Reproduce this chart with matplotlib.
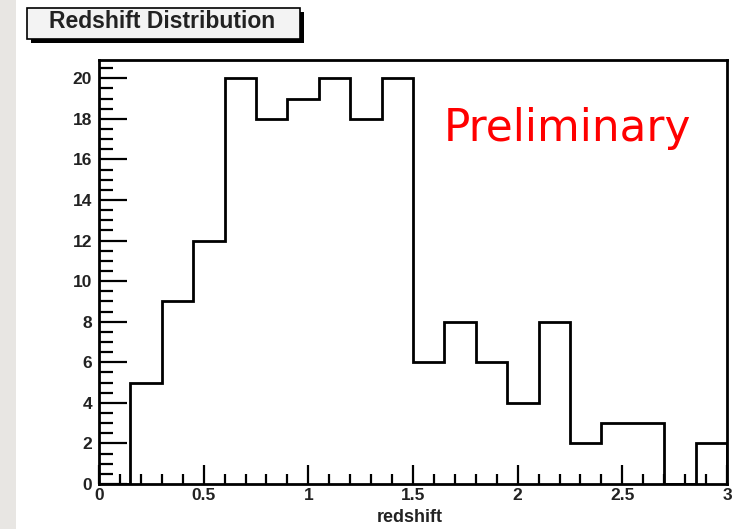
import matplotlib
matplotlib.use('Agg')
import matplotlib.pyplot as plt
from matplotlib.patches import Rectangle
from matplotlib.ticker import MultipleLocator

# histogram bin edges and counts
bin_edges = [0.0, 0.15, 0.3, 0.45, 0.6, 0.75, 0.9, 1.05, 1.2, 1.35, 1.5,
             1.65, 1.8, 1.95, 2.1, 2.25, 2.4, 2.55, 2.7, 2.85, 3.0]
counts = [0, 5, 9, 12, 20, 18, 19, 20, 18, 20, 6,
          8, 6, 4, 8, 2, 3, 3, 0, 2]

x_ticks = [0, 0.5, 1, 1.5, 2, 2.5, 3]
x_ticklabels = ['0', '0.5', '1', '1.5', '2', '2.5', '3']
y_ticks = [0, 2, 4, 6, 8, 10, 12, 14, 16, 18, 20]

HELV = 'Liberation Sans'
W, H = 742, 529
fig = plt.figure(figsize=(W / 100, H / 100), dpi=100)
fig.patch.set_facecolor('white')

# grey strip on the left edge
fig.patches.append(Rectangle((0, 0), 16 / W, 1, transform=fig.transFigure,
                             facecolor='#e8e6e3', edgecolor='none', zorder=0))

ax = fig.add_axes([99 / W, 1 - 484 / H, (727 - 99) / W, (484 - 60) / H])
ax.stairs(counts, bin_edges, color='black', lw=2)
ax.set_xlim(0, 3)
ax.set_ylim(0, 20.9)

for s in ax.spines.values():
    s.set_linewidth(2)

ax.set_xticks(x_ticks)
ax.set_xticklabels(x_ticklabels)
ax.set_yticks(y_ticks)
ax.xaxis.set_minor_locator(MultipleLocator(0.1))
ax.yaxis.set_minor_locator(MultipleLocator(0.5))
ax.tick_params(axis='x', which='major', direction='in', length=14, width=1.6,
               top=False, pad=3)
ax.tick_params(axis='x', which='minor', direction='in', length=7, width=1.6, top=False)
ax.tick_params(axis='y', which='major', direction='in', length=20, width=1.6,
               right=False, pad=5)
ax.tick_params(axis='y', which='minor', direction='in', length=10, width=1.6, right=False)
for lab in ax.get_xticklabels() + ax.get_yticklabels():
    lab.set_fontfamily(HELV)
    lab.set_fontweight('bold')
    lab.set_fontsize(12.5)
    lab.set_color('#222222')

fig.text(410 / W, 1 - 517 / H, 'redshift', ha='center', va='center',
         fontsize=13, fontweight='bold', family=HELV, color='#222222')

ax.text(0.549, 0.838, 'Preliminary', transform=ax.transAxes, color='red',
        fontsize=31.5, ha='left', va='center')

# title box with shadow
fig.patches.append(Rectangle((31 / W, 1 - 43 / H), 273 / W, 31 / H, transform=fig.transFigure,
                             facecolor='black', edgecolor='none', zorder=2))
fig.patches.append(Rectangle((27 / W, 1 - 39 / H), 273 / W, 31 / H, transform=fig.transFigure,
                             facecolor='#f3f3f3', edgecolor='black', lw=1.2, zorder=3))
fig.text(162 / W, 1 - 22 / H, 'Redshift Distribution', ha='center', va='center',
         fontsize=16.5, fontweight='bold', family=HELV, color='#222222', zorder=4)

fig.savefig('out.png', dpi=100)
